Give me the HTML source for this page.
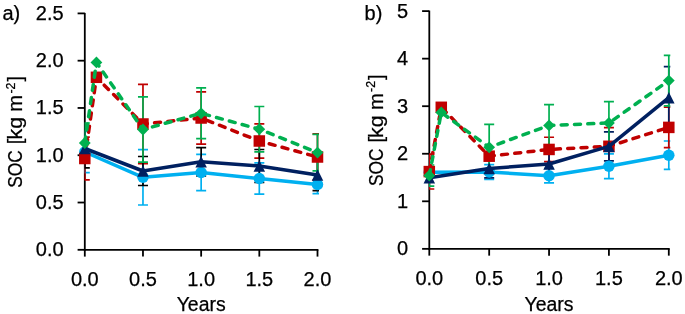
<!DOCTYPE html>
<html><head><meta charset="utf-8"><style>
html,body{margin:0;padding:0;background:#fff;}
body{width:685px;height:314px;overflow:hidden;}
svg{display:block;will-change:transform;}
text{font-family:"Liberation Sans", sans-serif;font-size:20px;fill:#000;stroke:#000;stroke-width:0.25px;}
</style></head><body>
<svg width="685" height="314" viewBox="0 0 685 314">
<rect width="685" height="314" fill="#fff"/>
<clipPath id="cl"><rect x="84.50" y="0" width="234.50" height="314"/></clipPath>
<line x1="77.60" y1="249.80" x2="84.80" y2="249.80" stroke="#000000" stroke-width="1.8"/>
<text x="63.60" y="256.20" text-anchor="end">0.0</text>
<line x1="77.60" y1="202.52" x2="84.80" y2="202.52" stroke="#000000" stroke-width="1.8"/>
<text x="63.60" y="208.92" text-anchor="end">0.5</text>
<line x1="77.60" y1="155.24" x2="84.80" y2="155.24" stroke="#000000" stroke-width="1.8"/>
<text x="63.60" y="161.64" text-anchor="end">1.0</text>
<line x1="77.60" y1="107.96" x2="84.80" y2="107.96" stroke="#000000" stroke-width="1.8"/>
<text x="63.60" y="114.36" text-anchor="end">1.5</text>
<line x1="77.60" y1="60.68" x2="84.80" y2="60.68" stroke="#000000" stroke-width="1.8"/>
<text x="63.60" y="67.08" text-anchor="end">2.0</text>
<line x1="77.60" y1="13.40" x2="84.80" y2="13.40" stroke="#000000" stroke-width="1.8"/>
<text x="63.60" y="19.80" text-anchor="end">2.5</text>
<line x1="84.80" y1="249.80" x2="84.80" y2="256.60" stroke="#000000" stroke-width="1.8"/>
<text x="84.80" y="285.80" text-anchor="middle">0.0</text>
<line x1="142.97" y1="249.80" x2="142.97" y2="256.60" stroke="#000000" stroke-width="1.8"/>
<text x="142.97" y="285.80" text-anchor="middle">0.5</text>
<line x1="201.15" y1="249.80" x2="201.15" y2="256.60" stroke="#000000" stroke-width="1.8"/>
<text x="201.15" y="285.80" text-anchor="middle">1.0</text>
<line x1="259.32" y1="249.80" x2="259.32" y2="256.60" stroke="#000000" stroke-width="1.8"/>
<text x="259.32" y="285.80" text-anchor="middle">1.5</text>
<line x1="317.50" y1="249.80" x2="317.50" y2="256.60" stroke="#000000" stroke-width="1.8"/>
<text x="317.50" y="285.80" text-anchor="middle">2.0</text>
<line x1="84.80" y1="12.90" x2="84.80" y2="250.70" stroke="#000000" stroke-width="1.8"/>
<line x1="83.90" y1="249.80" x2="318.40" y2="249.80" stroke="#000000" stroke-width="1.8"/>
<text x="201.15" y="310.90" text-anchor="middle" textLength="49" lengthAdjust="spacingAndGlyphs">Years</text>
<g transform="translate(22.30,132.20) rotate(-90)"><text x="-55.50" y="0" textLength="37.5" lengthAdjust="spacingAndGlyphs">SOC</text><text x="-12.00" y="0">[</text><text x="-7.30" y="0" textLength="22.5" lengthAdjust="spacingAndGlyphs">kg</text><text x="20.50" y="0" textLength="16.8" lengthAdjust="spacingAndGlyphs">m</text><text x="38.70" y="-7.5" style="font-size:13px" textLength="11.0" lengthAdjust="spacingAndGlyphs">-2</text><text x="50.70" y="0">]</text></g>
<text x="2.50" y="19.60">a)</text>
<path clip-path="url(#cl)" d="M84.80,131.40V172.60M79.80,131.40H89.80M79.80,172.60H89.80M142.97,149.60V205.00M137.97,149.60H147.97M137.97,205.00H147.97M201.15,154.30V190.70M196.15,154.30H206.15M196.15,190.70H206.15M259.32,162.80V194.20M254.32,162.80H264.32M254.32,194.20H264.32M317.50,175.30V193.70M312.50,175.30H322.50M312.50,193.70H322.50" stroke="#00B0F0" stroke-width="1.7" fill="none"/>
<path clip-path="url(#cl)" d="M84.80,137.20V179.80M79.80,137.20H89.80M79.80,179.80H89.80M142.97,84.40V163.60M137.97,84.40H147.97M137.97,163.60H147.97M201.15,91.90V144.10M196.15,91.90H206.15M196.15,144.10H206.15M259.32,123.80V158.20M254.32,123.80H264.32M254.32,158.20H264.32M317.50,133.80V180.20M312.50,133.80H322.50M312.50,180.20H322.50" stroke="#C00000" stroke-width="1.7" fill="none"/>
<path clip-path="url(#cl)" d="M84.80,129.10V167.90M79.80,129.10H89.80M79.80,167.90H89.80M142.97,156.50V185.50M137.97,156.50H147.97M137.97,185.50H147.97M201.15,147.60V176.00M196.15,147.60H206.15M196.15,176.00H206.15M259.32,149.50V182.50M254.32,149.50H264.32M254.32,182.50H264.32M317.50,159.40V190.60M312.50,159.40H322.50M312.50,190.60H322.50" stroke="#000000" stroke-width="1.7" fill="none"/>
<path clip-path="url(#cl)" d="M84.80,123.00V163.00M79.80,123.00H89.80M79.80,163.00H89.80M142.97,96.80V162.20M137.97,96.80H147.97M137.97,162.20H147.97M201.15,87.90V138.70M196.15,87.90H206.15M196.15,138.70H206.15M259.32,106.50V151.90M254.32,106.50H264.32M254.32,151.90H264.32M317.50,134.40V170.80M312.50,134.40H322.50M312.50,170.80H322.50" stroke="#00B050" stroke-width="1.7" fill="none"/>
<path d="M84.80,152.00 L142.97,177.30 L201.15,172.50 L259.32,178.50 L317.50,184.50" stroke="#00B0F0" stroke-width="3.5" fill="none" stroke-linejoin="round"/>
<circle cx="84.80" cy="152.00" r="5.75" fill="#00B0F0"/>
<circle cx="142.97" cy="177.30" r="5.75" fill="#00B0F0"/>
<circle cx="201.15" cy="172.50" r="5.75" fill="#00B0F0"/>
<circle cx="259.32" cy="178.50" r="5.75" fill="#00B0F0"/>
<circle cx="317.50" cy="184.50" r="5.75" fill="#00B0F0"/>
<path d="M84.80,158.50 L96.44,77.30 L142.97,124.00 L201.15,118.00 L259.32,141.00 L317.50,157.00" stroke="#C00000" stroke-width="3.5" fill="none" stroke-dasharray="6.0 7.3" stroke-linecap="round" stroke-linejoin="round"/>
<rect x="79.05" y="152.75" width="11.5" height="11.5" fill="#C00000"/>
<rect x="90.69" y="71.55" width="11.5" height="11.5" fill="#C00000"/>
<rect x="137.22" y="118.25" width="11.5" height="11.5" fill="#C00000"/>
<rect x="195.40" y="112.25" width="11.5" height="11.5" fill="#C00000"/>
<rect x="253.57" y="135.25" width="11.5" height="11.5" fill="#C00000"/>
<rect x="311.75" y="151.25" width="11.5" height="11.5" fill="#C00000"/>
<path d="M84.80,148.50 L142.97,171.00 L201.15,161.80 L259.32,166.00 L317.50,175.00" stroke="#002060" stroke-width="3.5" fill="none" stroke-linejoin="round"/>
<path d="M84.80,142.75L90.55,154.25L79.05,154.25Z" fill="#002060"/>
<path d="M142.97,165.25L148.72,176.75L137.22,176.75Z" fill="#002060"/>
<path d="M201.15,156.05L206.90,167.55L195.40,167.55Z" fill="#002060"/>
<path d="M259.32,160.25L265.07,171.75L253.57,171.75Z" fill="#002060"/>
<path d="M317.50,169.25L323.25,180.75L311.75,180.75Z" fill="#002060"/>
<path d="M84.80,143.00 L96.44,62.40 L142.97,129.50 L201.15,113.30 L259.32,129.20 L317.50,152.60" stroke="#00B050" stroke-width="3.5" fill="none" stroke-dasharray="6.0 7.3" stroke-linecap="round" stroke-linejoin="round"/>
<path d="M84.80,137.10L90.70,143.00L84.80,148.90L78.90,143.00Z" fill="#00B050"/>
<path d="M96.44,56.50L102.34,62.40L96.44,68.30L90.53,62.40Z" fill="#00B050"/>
<path d="M142.97,123.60L148.88,129.50L142.97,135.40L137.07,129.50Z" fill="#00B050"/>
<path d="M201.15,107.40L207.05,113.30L201.15,119.20L195.25,113.30Z" fill="#00B050"/>
<path d="M259.32,123.30L265.22,129.20L259.32,135.10L253.42,129.20Z" fill="#00B050"/>
<path d="M317.50,146.70L323.40,152.60L317.50,158.50L311.60,152.60Z" fill="#00B050"/>
<clipPath id="cr"><rect x="429.00" y="0" width="241.30" height="314"/></clipPath>
<line x1="422.10" y1="248.85" x2="429.30" y2="248.85" stroke="#000000" stroke-width="1.8"/>
<text x="408.00" y="255.25" text-anchor="end">0</text>
<line x1="422.10" y1="201.30" x2="429.30" y2="201.30" stroke="#000000" stroke-width="1.8"/>
<text x="408.00" y="207.70" text-anchor="end">1</text>
<line x1="422.10" y1="153.75" x2="429.30" y2="153.75" stroke="#000000" stroke-width="1.8"/>
<text x="408.00" y="160.15" text-anchor="end">2</text>
<line x1="422.10" y1="106.20" x2="429.30" y2="106.20" stroke="#000000" stroke-width="1.8"/>
<text x="408.00" y="112.60" text-anchor="end">3</text>
<line x1="422.10" y1="58.65" x2="429.30" y2="58.65" stroke="#000000" stroke-width="1.8"/>
<text x="408.00" y="65.05" text-anchor="end">4</text>
<line x1="422.10" y1="11.10" x2="429.30" y2="11.10" stroke="#000000" stroke-width="1.8"/>
<text x="408.00" y="17.50" text-anchor="end">5</text>
<line x1="429.30" y1="248.85" x2="429.30" y2="255.65" stroke="#000000" stroke-width="1.8"/>
<text x="429.30" y="284.90" text-anchor="middle">0.0</text>
<line x1="489.18" y1="248.85" x2="489.18" y2="255.65" stroke="#000000" stroke-width="1.8"/>
<text x="489.18" y="284.90" text-anchor="middle">0.5</text>
<line x1="549.05" y1="248.85" x2="549.05" y2="255.65" stroke="#000000" stroke-width="1.8"/>
<text x="549.05" y="284.90" text-anchor="middle">1.0</text>
<line x1="608.92" y1="248.85" x2="608.92" y2="255.65" stroke="#000000" stroke-width="1.8"/>
<text x="608.92" y="284.90" text-anchor="middle">1.5</text>
<line x1="668.80" y1="248.85" x2="668.80" y2="255.65" stroke="#000000" stroke-width="1.8"/>
<text x="668.80" y="284.90" text-anchor="middle">2.0</text>
<line x1="429.30" y1="10.60" x2="429.30" y2="249.75" stroke="#000000" stroke-width="1.8"/>
<line x1="428.40" y1="248.85" x2="669.70" y2="248.85" stroke="#000000" stroke-width="1.8"/>
<text x="549.05" y="311.00" text-anchor="middle" textLength="49" lengthAdjust="spacingAndGlyphs">Years</text>
<g transform="translate(382.50,130.60) rotate(-90)"><text x="-55.50" y="0" textLength="37.5" lengthAdjust="spacingAndGlyphs">SOC</text><text x="-12.00" y="0">[</text><text x="-7.30" y="0" textLength="22.5" lengthAdjust="spacingAndGlyphs">kg</text><text x="20.50" y="0" textLength="16.8" lengthAdjust="spacingAndGlyphs">m</text><text x="38.70" y="-7.5" style="font-size:13px" textLength="11.0" lengthAdjust="spacingAndGlyphs">-2</text><text x="50.70" y="0">]</text></g>
<text x="364.60" y="19.80">b)</text>
<path clip-path="url(#cr)" d="M489.18,164.65V179.45M484.18,164.65H494.18M484.18,179.45H494.18M549.05,168.50V182.90M544.05,168.50H554.05M544.05,182.90H554.05M608.92,153.90V178.70M603.92,153.90H613.92M603.92,178.70H613.92M668.80,141.00V169.40M663.80,141.00H673.80M663.80,169.40H673.80" stroke="#00B0F0" stroke-width="1.7" fill="none"/>
<path clip-path="url(#cr)" d="M429.30,154.20V189.00M424.30,154.20H434.30M424.30,189.00H434.30M489.18,152.20V160.20M484.18,152.20H494.18M484.18,160.20H494.18M549.05,137.25V161.65M544.05,137.25H554.05M544.05,161.65H554.05M608.92,127.70V164.90M603.92,127.70H613.92M603.92,164.90H613.92M668.80,107.20V147.60M663.80,107.20H673.80M663.80,147.60H673.80" stroke="#C00000" stroke-width="1.7" fill="none"/>
<path clip-path="url(#cr)" d="M489.18,159.20V177.80M484.18,159.20H494.18M484.18,177.80H494.18M549.05,154.00V174.00M544.05,154.00H554.05M544.05,174.00H554.05M608.92,131.90V160.90M603.92,131.90H613.92M603.92,160.90H613.92M668.80,66.60V128.80M663.80,66.60H673.80M663.80,128.80H673.80" stroke="#002060" stroke-width="1.7" fill="none"/>
<path clip-path="url(#cr)" d="M429.30,165.00V186.20M424.30,165.00H434.30M424.30,186.20H434.30M489.18,124.40V170.20M484.18,124.40H494.18M484.18,170.20H494.18M549.05,104.70V146.10M544.05,104.70H554.05M544.05,146.10H554.05M608.92,101.70V144.30M603.92,101.70H613.92M603.92,144.30H613.92M668.80,55.30V105.90M663.80,55.30H673.80M663.80,105.90H673.80" stroke="#00B050" stroke-width="1.7" fill="none"/>
<path d="M429.30,172.30 L489.18,172.05 L549.05,175.70 L608.92,166.30 L668.80,155.20" stroke="#00B0F0" stroke-width="3.5" fill="none" stroke-linejoin="round"/>
<circle cx="429.30" cy="172.30" r="5.75" fill="#00B0F0"/>
<circle cx="489.18" cy="172.05" r="5.75" fill="#00B0F0"/>
<circle cx="549.05" cy="175.70" r="5.75" fill="#00B0F0"/>
<circle cx="608.92" cy="166.30" r="5.75" fill="#00B0F0"/>
<circle cx="668.80" cy="155.20" r="5.75" fill="#00B0F0"/>
<path d="M429.30,171.60 L441.28,107.30 L489.18,156.20 L549.05,149.45 L608.92,146.30 L668.80,127.40" stroke="#C00000" stroke-width="3.5" fill="none" stroke-dasharray="6.0 7.3" stroke-linecap="round" stroke-linejoin="round"/>
<rect x="423.55" y="165.85" width="11.5" height="11.5" fill="#C00000"/>
<rect x="435.53" y="101.55" width="11.5" height="11.5" fill="#C00000"/>
<rect x="483.43" y="150.45" width="11.5" height="11.5" fill="#C00000"/>
<rect x="543.30" y="143.70" width="11.5" height="11.5" fill="#C00000"/>
<rect x="603.17" y="140.55" width="11.5" height="11.5" fill="#C00000"/>
<rect x="663.05" y="121.65" width="11.5" height="11.5" fill="#C00000"/>
<path d="M429.30,177.80 L489.18,168.50 L549.05,164.00 L608.92,146.40 L668.80,97.70" stroke="#002060" stroke-width="3.5" fill="none" stroke-linejoin="round"/>
<path d="M429.30,172.05L435.05,183.55L423.55,183.55Z" fill="#002060"/>
<path d="M489.18,162.75L494.93,174.25L483.43,174.25Z" fill="#002060"/>
<path d="M549.05,158.25L554.80,169.75L543.30,169.75Z" fill="#002060"/>
<path d="M608.92,140.65L614.67,152.15L603.17,152.15Z" fill="#002060"/>
<path d="M668.80,91.95L674.55,103.45L663.05,103.45Z" fill="#002060"/>
<path d="M429.30,175.60 L441.28,112.40 L489.18,147.30 L549.05,125.40 L608.92,123.00 L668.80,80.60" stroke="#00B050" stroke-width="3.5" fill="none" stroke-dasharray="6.0 7.3" stroke-linecap="round" stroke-linejoin="round"/>
<path d="M429.30,169.70L435.20,175.60L429.30,181.50L423.40,175.60Z" fill="#00B050"/>
<path d="M441.28,106.50L447.18,112.40L441.28,118.30L435.38,112.40Z" fill="#00B050"/>
<path d="M489.18,141.40L495.07,147.30L489.18,153.20L483.28,147.30Z" fill="#00B050"/>
<path d="M549.05,119.50L554.95,125.40L549.05,131.30L543.15,125.40Z" fill="#00B050"/>
<path d="M608.92,117.10L614.82,123.00L608.92,128.90L603.02,123.00Z" fill="#00B050"/>
<path d="M668.80,74.70L674.70,80.60L668.80,86.50L662.90,80.60Z" fill="#00B050"/>
</svg>
</body></html>
